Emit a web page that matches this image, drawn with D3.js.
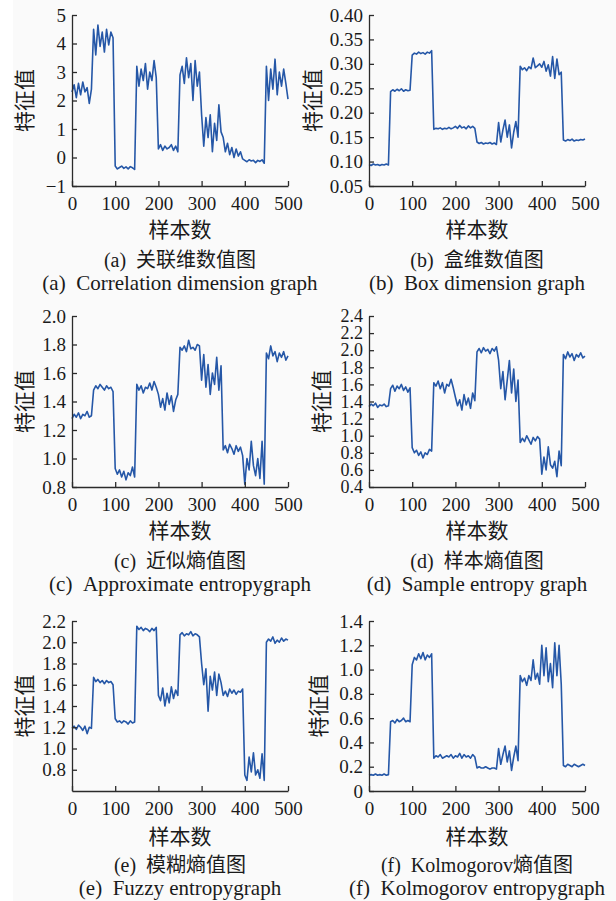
<!DOCTYPE html>
<html>
<head>
<meta charset="utf-8">
<script src="https://cdn.jsdelivr.net/npm/d3@7"></script>
<style>
  html, body { margin: 0; padding: 0; background: #fafafa; }
  svg { display: block; }
  text { font-family: "Liberation Serif", "Noto Sans CJK SC", serif; fill: #1a1a1a; }
</style>
</head>
<body>
<svg id="chart"></svg>
<script>
const width = 616, height = 901;

// sample index, every 5 samples from 0 to 500
const samples = d3.range(0, 501, 5);
const xTicks = [0, 100, 200, 300, 400, 500];

// (a) correlation dimension
const corrDim = [
  2.3, 2.55, 2.1, 2.6, 2.2, 2.65, 2.3, 2.45, 1.9, 2.4,
  4.5, 3.6, 4.65, 3.9, 4.4, 3.7, 4.5, 3.95, 4.4, 4.2,
  -0.3, -0.4, -0.35, -0.3, -0.38, -0.33, -0.4, -0.32, -0.36, -0.42,
  3.2, 2.5, 3.1, 2.7, 3.3, 2.4, 3.0, 2.7, 3.4, 2.8,
  0.3, 0.45, 0.25, 0.4, 0.3, 0.35, 0.45, 0.25, 0.4, 0.2,
  2.9, 3.2, 2.6, 3.5, 2.8, 3.3, 2.0, 3.4, 2.5, 3.0,
  1.5, 0.4, 1.4, 0.7, 1.5, 0.2, 1.2, 0.6, 1.85, 0.9,
  0.7, 0.2, 0.5, 0.1, 0.35, 0.0, 0.3, 0.05, 0.2, -0.05,
  -0.1, -0.15, -0.08, -0.12, -0.1, -0.18, -0.1, -0.14, -0.08, -0.2,
  3.2, 2.0, 3.1, 2.4, 3.45, 2.2, 3.0, 2.5, 3.1, 2.6, 2.05
];
const ticksA = [-1, 0, 1, 2, 3, 4, 5];

// (b) box dimension
const boxDim = [
  0.094, 0.092, 0.095, 0.093, 0.094, 0.092, 0.094, 0.093, 0.095, 0.093,
  0.243, 0.247, 0.244, 0.248, 0.245, 0.249, 0.244, 0.247, 0.245, 0.246,
  0.318, 0.322, 0.32, 0.324, 0.321, 0.323, 0.32, 0.324, 0.322, 0.327,
  0.166, 0.168, 0.167, 0.169, 0.166, 0.168, 0.167, 0.17, 0.167, 0.169,
  0.172, 0.168, 0.174, 0.169, 0.171, 0.167, 0.173, 0.169, 0.172, 0.168,
  0.14, 0.137, 0.139, 0.136, 0.138, 0.137, 0.139, 0.136, 0.138, 0.135,
  0.18, 0.14, 0.165, 0.185, 0.15, 0.175, 0.128, 0.16, 0.182, 0.15,
  0.295, 0.288, 0.292, 0.286, 0.294, 0.29, 0.312, 0.292, 0.296, 0.3,
  0.293, 0.305, 0.285, 0.298, 0.275, 0.315, 0.27, 0.31, 0.278, 0.283,
  0.144, 0.142, 0.145, 0.143, 0.146, 0.142, 0.144, 0.143, 0.145, 0.144, 0.146
];
const ticksB = [0.05, 0.10, 0.15, 0.20, 0.25, 0.30, 0.35, 0.40];

// (c) approximate entropy
const apEn = [
  1.28, 1.31, 1.29, 1.32, 1.28, 1.31, 1.3, 1.33, 1.29, 1.3,
  1.48, 1.51, 1.49, 1.52, 1.5, 1.48, 1.51, 1.49, 1.5, 1.47,
  0.93, 0.89, 0.92, 0.87, 0.91, 0.85, 0.9, 0.88, 0.94, 0.87,
  1.52, 1.48, 1.51, 1.46, 1.5, 1.49, 1.53, 1.48, 1.54, 1.5,
  1.45, 1.36, 1.42, 1.34, 1.46, 1.38, 1.44, 1.33, 1.41, 1.45,
  1.78, 1.76, 1.79, 1.75, 1.83, 1.77, 1.78, 1.76, 1.8, 1.79,
  1.55, 1.73, 1.5, 1.66, 1.45, 1.6, 1.52, 1.71, 1.48, 1.65,
  1.06, 1.09, 1.04, 1.1, 1.07, 1.03, 1.09, 1.05, 1.08, 1.02,
  0.82, 1.0, 0.92, 1.12, 0.95, 0.88, 1.0, 0.86, 1.12, 0.82,
  1.74, 1.7, 1.79, 1.72, 1.75, 1.68, 1.74, 1.71, 1.75, 1.69, 1.72
];
const ticksC = [0.8, 1.0, 1.2, 1.4, 1.6, 1.8, 2.0];

// (d) sample entropy
const sampEn = [
  1.34, 1.37, 1.35, 1.38, 1.33, 1.36, 1.35, 1.37, 1.34, 1.35,
  1.55, 1.59, 1.52, 1.58, 1.55, 1.6, 1.53, 1.57, 1.51, 1.56,
  0.86, 0.8, 0.83, 0.77, 0.81, 0.74, 0.8, 0.78, 0.84, 0.82,
  1.62, 1.58, 1.64, 1.55, 1.62, 1.5, 1.6, 1.58, 1.66, 1.56,
  1.45, 1.35, 1.42, 1.3, 1.48, 1.36, 1.44, 1.32, 1.5, 1.41,
  1.98, 2.02, 1.97, 2.03, 1.99, 2.01, 1.96, 2.02, 1.99, 2.04,
  1.88, 1.55, 1.75, 1.42, 1.65, 1.88, 1.5, 1.78, 1.4, 1.65,
  0.92, 0.97, 0.93, 1.0, 0.95, 0.9, 0.98, 0.94, 0.99, 0.96,
  0.55, 0.75, 0.6, 0.87, 0.66, 0.62, 0.7, 0.52, 0.82, 0.65,
  1.95, 1.9, 1.98, 1.92, 1.96, 1.88, 1.95, 1.92, 1.97, 1.91, 1.93
];
const ticksD = [0.4, 0.6, 0.8, 1.0, 1.2, 1.4, 1.6, 1.8, 2.0, 2.2, 2.4];

// (e) fuzzy entropy
const fuzzyEn = [
  1.19, 1.21, 1.18, 1.22, 1.2, 1.17, 1.21, 1.14, 1.2, 1.19,
  1.67, 1.63, 1.65, 1.62, 1.64, 1.61, 1.64, 1.62, 1.63, 1.6,
  1.28, 1.25, 1.26, 1.24, 1.26, 1.25, 1.23, 1.26, 1.24, 1.25,
  2.15, 2.12, 2.14, 2.11, 2.13, 2.12, 2.1, 2.13, 2.11, 2.14,
  1.5, 1.45, 1.57, 1.4, 1.52, 1.43, 1.58, 1.47, 1.55, 1.5,
  2.07, 2.09, 2.06, 2.08, 2.07, 2.1, 2.06, 2.08, 2.07, 2.05,
  1.8, 1.6, 1.75, 1.35, 1.68, 1.55, 1.72, 1.5, 1.7, 1.62,
  1.5, 1.54, 1.49, 1.56, 1.52, 1.55, 1.51, 1.54, 1.53, 1.56,
  0.75, 0.7, 0.92, 0.78, 0.96, 0.75, 0.8, 0.72, 0.95, 0.7,
  2.0, 2.03, 2.01, 2.05, 1.99, 2.02, 2.0, 2.04, 2.01, 2.03, 2.02
];
const ticksE = [0.8, 1.0, 1.2, 1.4, 1.6, 1.8, 2.0, 2.2];

// (f) Kolmogorov entropy
const kolmEn = [
  0.13, 0.135, 0.13, 0.14, 0.13, 0.135, 0.13, 0.14, 0.13, 0.135,
  0.57, 0.58, 0.56, 0.59, 0.57, 0.58, 0.6, 0.57, 0.58, 0.57,
  1.04, 1.1, 1.08, 1.13, 1.09, 1.14, 1.08, 1.12, 1.1, 1.13,
  0.27, 0.29, 0.28, 0.3, 0.27, 0.28, 0.29, 0.28, 0.3, 0.27,
  0.29, 0.28, 0.31, 0.27, 0.3, 0.28, 0.29, 0.27, 0.3, 0.28,
  0.19, 0.2, 0.19, 0.19, 0.2, 0.19, 0.18, 0.19, 0.19, 0.18,
  0.35, 0.22, 0.3, 0.37, 0.24, 0.33, 0.17, 0.28, 0.37, 0.25,
  0.95, 0.9, 0.93, 0.87, 0.95, 0.91, 1.08, 0.92, 0.97, 0.88,
  1.2, 0.95, 1.18, 0.9, 1.05, 0.85, 1.22, 0.95, 1.2, 0.88,
  0.21, 0.2, 0.22, 0.21, 0.2, 0.22, 0.21, 0.2, 0.21, 0.22, 0.21
];
const ticksF = [0, 0.2, 0.4, 0.6, 0.8, 1.0, 1.2, 1.4];

const yLabel = '特征值', xLabel = '样本数';
const captionsCn = ['关联维数值图', '盒维数值图', '近似熵值图', '样本熵值图', '模糊熵值图', 'Kolmogorov熵值图'];
const captionsEn = ['Correlation dimension graph', 'Box dimension graph', 'Approximate entropygraph',
  'Sample entropy graph', 'Fuzzy entropygraph', 'Kolmogorov entropygraph'];
const letters = ['a', 'b', 'c', 'd', 'e', 'f'];

const fmt1 = d3.format('.1f'), fmt2 = d3.format('.2f');
const panels = [
  { values: corrDim, ticks: ticksA, domain: [-1, 5], fmt: d3.format('d') },
  { values: boxDim, ticks: ticksB, domain: [0.05, 0.40], fmt: fmt2 },
  { values: apEn, ticks: ticksC, domain: [0.8, 2.0], fmt: fmt1 },
  { values: sampEn, ticks: ticksD, domain: [0.4, 2.4], fmt: fmt1 },
  { values: fuzzyEn, ticks: ticksE, domain: [0.6, 2.2], fmt: fmt1 },
  { values: kolmEn, ticks: ticksF, domain: [0, 1.4], fmt: d => d === 0 ? '0' : fmt1(d) }
];

// layout
const colX = [72, 369];
const plotW = 216;
const rows = [{ top: 15, bottom: 186 }, { top: 316, bottom: 487 }, { top: 621, bottom: 791 }];
const yLabelX = [25, 313, 25, 322, 25, 319];
const lineColor = '#2557a7', axisColor = '#2b2b2b';

const svg = d3.select('#chart').attr('width', width).attr('height', height);
svg.append('rect').attr('width', width).attr('height', height).attr('fill', '#fafafa');
svg.append('rect').attr('width', 13).attr('height', height).attr('fill', '#ffffff');

panels.forEach((p, i) => {
  const col = i % 2, row = rows[Math.floor(i / 2)];
  const x0 = colX[col], x1 = x0 + plotW;
  const x = d3.scaleLinear().domain([0, 500]).range([x0, x1]);
  const y = d3.scaleLinear().domain(p.domain).range([row.bottom, row.top]);
  const g = svg.append('g');

  // series line
  g.append('path')
    .datum(p.values)
    .attr('fill', 'none')
    .attr('stroke', lineColor)
    .attr('stroke-width', 1.6)
    .attr('stroke-linejoin', 'round')
    .attr('d', d3.line().x((d, k) => x(samples[k])).y(d => y(d)));

  // y axis, ticks pointing inward
  const yAxis = g.append('g')
    .attr('transform', `translate(${x0},0)`)
    .call(d3.axisLeft(y).tickValues(p.ticks).tickFormat(p.fmt).tickSizeInner(-5).tickSizeOuter(0).tickPadding(6));

  // x axis
  const xAxis = g.append('g')
    .attr('transform', `translate(0,${row.bottom})`)
    .call(d3.axisBottom(x).tickValues(xTicks).tickFormat(d3.format('d')).tickSizeInner(-5).tickSizeOuter(0));
  xAxis.selectAll('text').attr('y', 17).attr('dy', '0.35em');

  [yAxis, xAxis].forEach(ax => {
    ax.select('.domain').attr('stroke', axisColor).attr('stroke-width', 1.3);
    ax.selectAll('.tick line').attr('stroke', axisColor).attr('stroke-width', 1.3);
    ax.selectAll('text')
      .attr('font-family', '"Liberation Serif", serif')
      .attr('font-size', ax === yAxis && p.ticks.length > 10 ? 18 : 19)
      .attr('fill', '#1a1a1a');
  });

  const cx = (x0 + x1) / 2;
  g.append('text')
    .attr('transform', `translate(${yLabelX[i]},${(row.top + row.bottom) / 2}) rotate(-90)`)
    .attr('text-anchor', 'middle').attr('dy', '0.35em')
    .attr('font-size', 21)
    .text(yLabel);

  g.append('text')
    .attr('x', cx).attr('y', row.bottom + (i < 4 ? 44 : 46))
    .attr('text-anchor', 'middle').attr('dy', '0.35em')
    .attr('font-size', 21)
    .text(xLabel);

  g.append('text')
    .attr('x', cx).attr('y', row.bottom + 74)
    .attr('text-anchor', 'middle').attr('dy', '0.35em')
    .attr('font-size', 20)
    .text(`(${letters[i]})\u00a0\u00a0${captionsCn[i]}`);

  g.append('text')
    .attr('x', cx).attr('y', row.bottom + 97)
    .attr('text-anchor', 'middle').attr('dy', '0.35em')
    .attr('font-size', 21)
    .text(`(${letters[i]})\u00a0\u00a0${captionsEn[i]}`);
});
</script>
</body>
</html>
